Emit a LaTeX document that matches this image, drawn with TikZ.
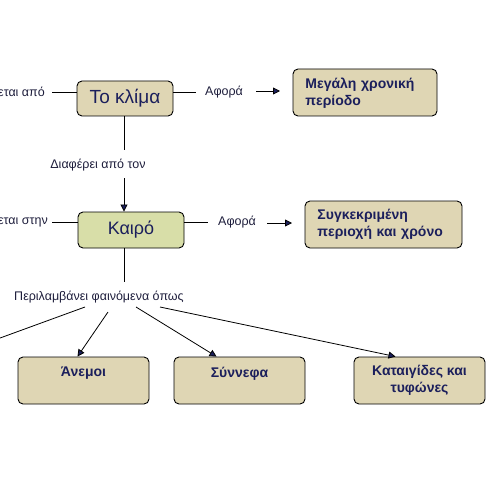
\documentclass[tikz,border=0pt]{standalone}
\usepackage{fontspec}
\setmainfont{Liberation Sans}
\usetikzlibrary{arrows.meta}
\definecolor{navy}{HTML}{1B1F5C}
\definecolor{beige}{HTML}{DFD6B4}
\definecolor{greenish}{HTML}{D8DEA8}
\definecolor{labcol}{HTML}{1E1E3C}
\tikzset{
  box/.style={draw=black, line width=0.9pt, rounded corners=5pt, fill=beige, text=navy, inner sep=0pt},
  mainbox/.style={box, font=\fontsize{19}{21}\selectfont},
  infobox/.style={box, font=\bfseries\fontsize{14}{17}\selectfont},
  boxtext/.style={infobox, fill=none, draw=none, align=left, anchor=west},
  lab/.style={text=labcol, font=\fontsize{12.5}{14}\selectfont, inner sep=0pt},
  conn/.style={line width=0.8pt, draw=black},
  arr/.style={conn, -{Triangle[length=7pt,width=7pt,fill=navy]}},
}
\begin{document}
\begin{tikzpicture}[x=1pt,y=-1pt]
\useasboundingbox (0,0) rectangle (500,500);
\clip (0,0) rectangle (500,500);
% main nodes
\node[mainbox, minimum width=96pt, minimum height=35pt] (klima) at (125,98.5) {Το κλίμα};
\node[mainbox, fill=greenish, minimum width=106pt, minimum height=36pt, font=\fontsize{18}{20}\selectfont] (kairo) at (131,230) {Καιρό};
\node[infobox, minimum width=144pt, minimum height=47pt] (megali) at (365,92.5) {};
\node[boxtext, text width=130pt] (megalitxt) at (305,93) {Μεγάλη χρονική\\περίοδο};
\node[infobox, minimum width=157pt, minimum height=47pt] (syg) at (383.5,224.5) {};
\node[boxtext, text width=145pt] (sygtxt) at (317,224.5) {Συγκεκριμένη\\περιοχή και χρόνο};
\node[infobox, minimum width=131pt, minimum height=47pt, align=center] (anemoi) at (83.5,380.5) {Άνεμοι\\\mbox{}};
\node[infobox, minimum width=131pt, minimum height=47pt, align=center] (synnefa) at (239.5,380.5) {Σύννεφα\\\mbox{}};
\node[infobox, minimum width=131pt, minimum height=47pt, align=center] (kataig) at (419.5,380.5) {Καταιγίδες και\\τυφώνες};
% labels
\node[lab, anchor=east] (lapo) at (45,92) {εται από};
\node[lab, anchor=west] (afora1) at (205,92) {Αφορά};
\node[lab] (diaf) at (98,165) {Διαφέρει από τον};
\node[lab, anchor=east] (lstin) at (48,222) {εται στην};
\node[lab, anchor=west] (afora2) at (218,222) {Αφορά};
\node[lab] (peril) at (99,297) {Περιλαμβάνει φαινόμενα όπως};
% connectors
\coordinate (l1a) at (52,92);
\draw[conn] (l1a) -- (klima.west |- l1a);
\coordinate (r1b) at (196,92);
\draw[conn] (klima.east |- r1b) -- (r1b);
\coordinate (a1s) at (256,91);
\coordinate (a1e) at (280,91);
\draw[arr] (a1s) -- (a1e);
\coordinate (v1a) at (124,150);
\draw[conn] (klima.south -| v1a) -- (v1a);
\coordinate (v1b) at (124,178);
\draw[arr] (v1b) -- (kairo.north -| v1b);
\coordinate (l2a) at (52,222);
\draw[conn] (l2a) -- (kairo.west |- l2a);
\coordinate (r2b) at (208,222);
\draw[conn] (kairo.east |- r2b) -- (r2b);
\coordinate (a2s) at (267,223);
\coordinate (a2e) at (292,223);
\draw[arr] (a2s) -- (a2e);
\coordinate (v2b) at (124,282);
\draw[conn] (kairo.south -| v2b) -- (v2b);
% branches
\coordinate (b1s) at (85,307);
\coordinate (b1e) at (-15,343.5);
\draw[conn] (b1s) -- (b1e);
\coordinate (b2s) at (108,312);
\draw[arr] (b2s) -- ([xshift=-6pt]anemoi.north);
\coordinate (b3s) at (136,307);
\draw[arr] (b3s) -- ([xshift=-23pt]synnefa.north);
\coordinate (b4s) at (160,307);
\draw[arr] (b4s) -- ([xshift=-24pt]kataig.north);
\end{tikzpicture}
\end{document}
